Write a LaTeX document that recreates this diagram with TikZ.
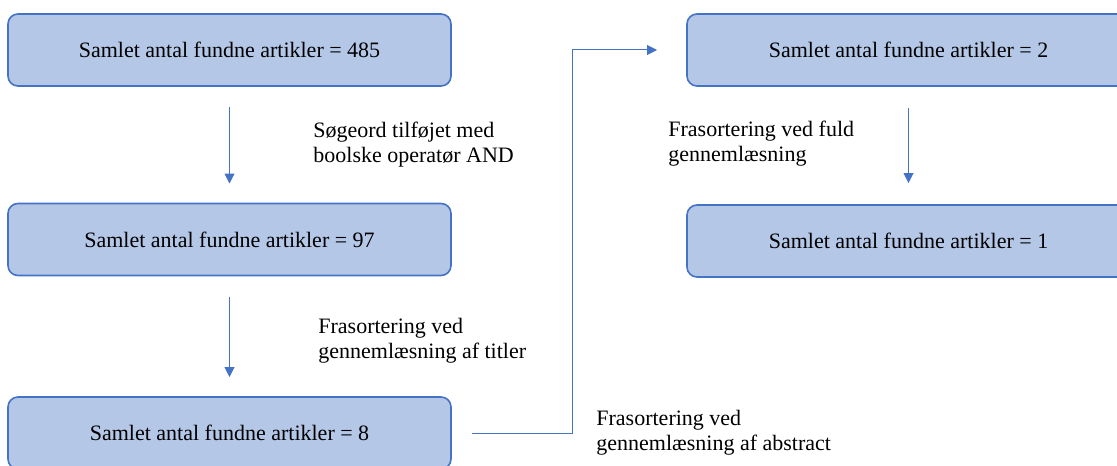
\documentclass[tikz,border=0pt]{standalone}
\usepackage{fontspec}
\setmainfont{Liberation Serif}
\newfontfamily\boxfont{Liberation Serif}
\usepackage{tikz}
\usetikzlibrary{arrows.meta}
\definecolor{boxfill}{HTML}{B4C7E7}
\definecolor{boxline}{HTML}{4472C4}

\begin{document}
\begin{tikzpicture}[x=0.5pt,y=-0.5pt,
  stage/.style={draw=boxline,fill=boxfill,line width=0.8pt,rounded corners=5pt,
    minimum width=221.5pt,minimum height=36pt,inner sep=0pt,outer sep=0pt,
    font=\boxfont\fontsize{11}{13}\selectfont},
  note/.style={anchor=west,align=left,inner sep=0pt,font=\boxfont\fontsize{11}{12.5}\selectfont},
  flow/.style={draw=boxline,line width=0.5pt,-{Triangle[length=5pt,width=5pt]}}]
  \useasboundingbox (0,0) rectangle (1117,465);
  \clip (0,0) rectangle (1117,465);
  % left column
  \node[stage] (s485) at (229.5,50) {Samlet antal fundne artikler = 485};
  \node[stage] (s97) at (229.5,239.5) {Samlet antal fundne artikler = 97};
  \node[stage] (s8) at (229.5,433) {Samlet antal fundne artikler = 8};
  % right column
  \node[stage] (s2) at (908.5,50) {Samlet antal fundne artikler = 2};
  \node[stage] (s1) at (908.5,241) {Samlet antal fundne artikler = 1};
  \coordinate (elbow) at (572,433);
  \draw[flow,shorten <=10.5pt,shorten >=10pt] (s485) -- (s97);
  \draw[flow,shorten <=10.5pt,shorten >=10pt] (s97) -- (s8);
  \draw[flow,shorten <=11pt,shorten >=11pt] (s2) -- (s1);
  \draw[flow,shorten <=10.5pt,shorten >=15pt] (s8.east) -- (elbow) |- (s2.west);
  \node[note] (n1) at (313,145) {Søgeord tilføjet med\\boolske operatør AND};
  \node[note] (n2) at (318,340.5) {Frasortering ved\\gennemlæsning af titler};
  \node[note] (n3) at (596,433) {Frasortering ved\\gennemlæsning af abstract};
  \node[note] (n4) at (668,144) {Frasortering ved fuld\\gennemlæsning};
\end{tikzpicture}
\end{document}
